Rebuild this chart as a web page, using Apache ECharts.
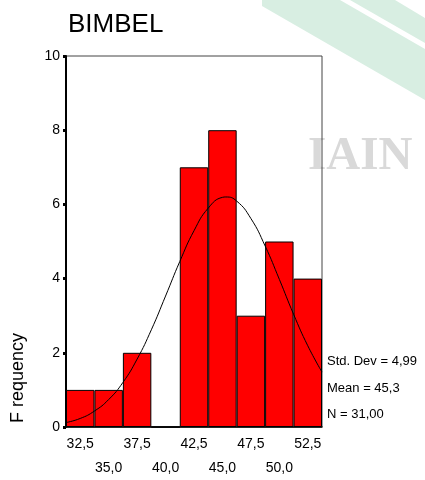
<!DOCTYPE html>
<html>
<head>
<meta charset="utf-8">
<script src="https://cdn.jsdelivr.net/npm/echarts@6/dist/echarts.min.js"></script>
<style>
  html, body { margin: 0; padding: 0; background: #fff; }
  #chart { width: 425px; height: 480px; }
</style>
</head>
<body>
<div id="chart"></div>
<script>
// histogram bins (midpoints) and counts
var binLabels = ['32,5', '35,0', '37,5', '40,0', '42,5', '45,0', '47,5', '50,0', '52,5'];
var binCounts = [1, 1, 2, 0, 7, 8, 3, 5, 4];

// normal curve, values
var curveX = [31.25, 32.5, 33.75, 35, 36.25, 37.5, 38.75, 40, 41.25, 42.5, 43.75, 45, 45.3, 46.25, 47.5, 48.75, 50, 51.25, 52.5, 53.75];
var curveY = [0.12, 0.23, 0.43, 0.74, 1.2, 1.83, 2.62, 3.53, 4.46, 5.29, 5.9, 6.19, 6.2, 6.09, 5.62, 4.88, 3.98, 3.04, 2.19, 1.48];

var yTicks = [0, 2, 4, 6, 8, 10];
var statLines = ['Std. Dev = 4,99', 'Mean = 45,3', 'N = 31,00'];

var font = '"Liberation Sans", Arial, sans-serif';

var curveData = [];
for (var i = 0; i < curveX.length; i++) {
    curveData.push([curveX[i], curveY[i]]);
}

var chart = echarts.init(document.getElementById('chart'));

var statGraphics = [];
statLines.forEach(function (t, k) {
    statGraphics.push({
        type: 'text',
        left: 327,
        top: 355 + k * 26.5,
        style: { text: t, font: '13px ' + font, fill: '#000' }
    });
});

chart.setOption({
    animation: false,
    title: {
        text: 'BIMBEL',
        left: 63,
        top: 7,
        textStyle: { fontFamily: font, fontSize: 26, fontWeight: 'normal', color: '#000' }
    },
    grid: {
        left: 66, right: 103, top: 56, bottom: 53,
        show: true,
        borderColor: '#444',
        borderWidth: 1,
        backgroundColor: 'transparent'
    },
    xAxis: [{
        type: 'category',
        data: binLabels,
        boundaryGap: true,
        axisLine: { lineStyle: { color: '#000', width: 1.5 } },
        axisTick: { alignWithLabel: true, length: 3, lineStyle: { color: '#555', width: 1 } },
        axisLabel: {
            interval: 0,
            margin: 5,
            fontFamily: font,
            fontSize: 14,
            lineHeight: 24,
            color: '#000',
            formatter: function (v, idx) { return idx % 2 ? '\n' + v : v; }
        },
        splitLine: { show: false }
    }, {
        type: 'value',
        min: 31.25,
        max: 53.75,
        show: false
    }],
    yAxis: {
        type: 'value',
        min: 0,
        max: 10,
        interval: 2,
        axisLine: { show: true, lineStyle: { color: '#000', width: 2 } },
        axisTick: { show: true, length: 3, lineStyle: { color: '#000', width: 3 } },
        axisLabel: { margin: 6, fontFamily: font, fontSize: 14, color: '#000',
            formatter: function (v) { return yTicks.indexOf(v) >= 0 ? String(v) : ''; } },
        splitLine: { show: false }
    },
    graphic: [
        // watermark
        {
            type: 'polygon', z: -10, silent: true,
            shape: { points: [[262, 0], [340, 0], [425, 49], [425, 100], [262, 6]] },
            style: { fill: '#d8eee2' }
        },
        {
            type: 'polygon', z: -10, silent: true,
            shape: { points: [[350, 0], [395, 0], [425, 18], [425, 43]] },
            style: { fill: '#d8eee2' }
        },
        {
            type: 'text', z: -10, silent: true,
            left: 308, top: 133,
            style: { text: 'IAIN', font: 'bold 47px "Liberation Serif", serif', fill: '#d9d9d9' }
        },
        {
            type: 'text',
            x: 18, y: 378,
            rotation: Math.PI / 2,
            style: { text: 'F requency', font: '18px ' + font, fill: '#000',
                align: 'center', verticalAlign: 'middle' }
        }
    ].concat(statGraphics),
    series: [{
        type: 'bar',
        data: binCounts,
        barWidth: '100%',
        itemStyle: { color: '#ff0000', borderColor: '#000', borderWidth: 1 },
        z: 2
    }, {
        type: 'line',
        xAxisIndex: 1,
        data: curveData,
        smooth: true,
        showSymbol: false,
        lineStyle: { color: '#000', width: 1 },
        z: 5
    }]
});
</script>
</body>
</html>
